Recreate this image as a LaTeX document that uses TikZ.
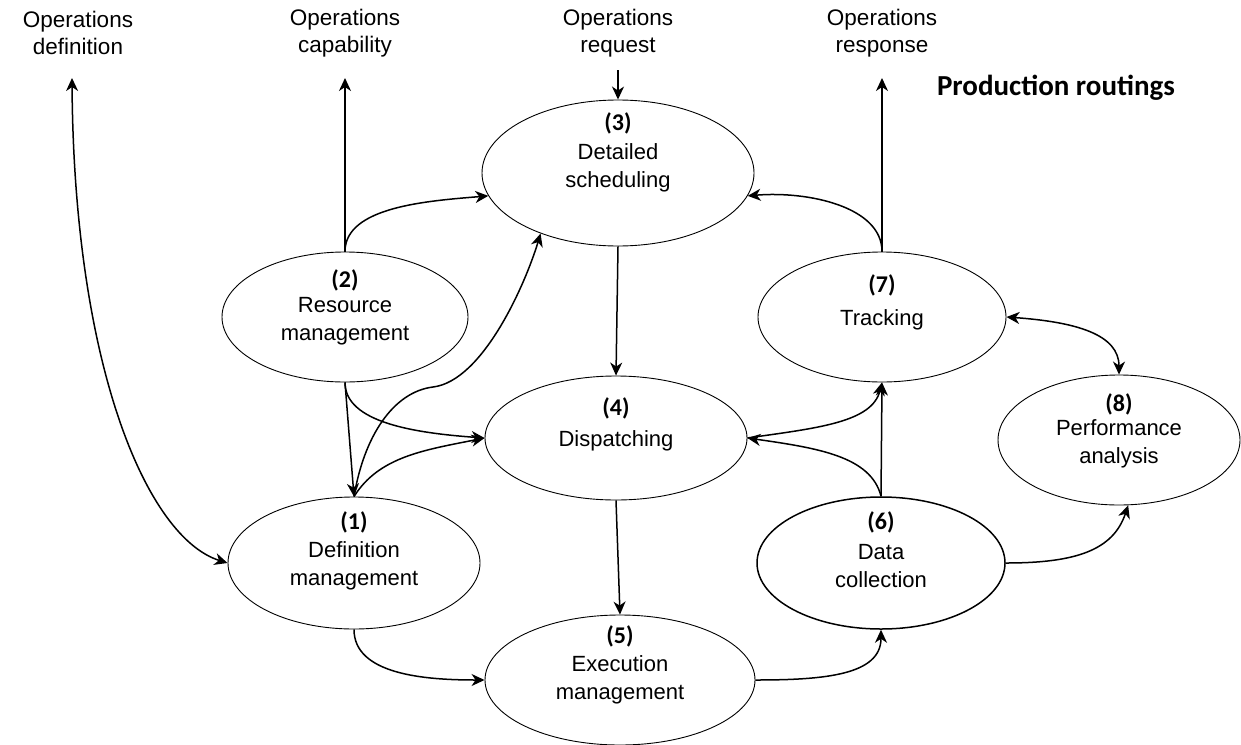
\documentclass[tikz,border=0pt]{standalone}
\usepackage{fontspec}
\setmainfont{Liberation Sans}
\newfontfamily\numfont{Carlito}
\usetikzlibrary{arrows.meta,shapes.geometric}

\tikzset{
  proc/.style={draw, ellipse, line width=0.9pt, inner sep=0pt},
  procname/.style={font=\fontsize{22}{28}\selectfont, align=center, inner sep=0pt},
  procnum/.style={font=\numfont\bfseries\fontsize{24}{28}\selectfont, inner sep=0pt},
  extlabel/.style={font=\fontsize{22.5}{27}\selectfont, align=center, inner sep=0pt},
  flow/.style={line width=1.5pt, -{Stealth[length=13pt,width=12pt,inset=4pt]}},
  twoway/.style={line width=1.5pt, {Stealth[length=13pt,width=12pt,inset=4pt]}-{Stealth[length=13pt,width=12pt,inset=4pt]}},
}

\begin{document}
\begin{tikzpicture}[x=1pt,y=-1pt]
\useasboundingbox (0,0) rectangle (1241,744);

% activities
\node[proc, minimum width=252pt, minimum height=132pt] (n1) at (354,563) {};
\node[proc, minimum width=246pt, minimum height=130pt] (n2) at (345,317) {};
\node[proc, minimum width=272pt, minimum height=146pt] (n3) at (618,173) {};
\node[proc, minimum width=262pt, minimum height=124pt] (n4) at (616,438) {};
\node[proc, minimum width=270pt, minimum height=130pt] (n5) at (620,680) {};
\node[proc, line width=1.5pt, minimum width=248pt, minimum height=132pt] (n6) at (881,563) {};
\node[proc, minimum width=248pt, minimum height=130pt] (n7) at (882,317) {};
\node[proc, minimum width=242pt, minimum height=130pt] (n8) at (1119,440) {};

% activity texts
\node[procnum] (k1) at (354,522) {(1)};
\node[procname] (t1) at (354,566) {Definition\\management};
\node[procnum] (k2) at (345,280) {(2)};
\node[procname] (t2) at (345,321) {Resource\\management};
\node[procnum] (k3) at (618,123) {(3)};
\node[procname] (t3) at (618,168) {Detailed\\scheduling};
\node[procnum] (k4) at (616,408) {(4)};
\node[procname] (t4) at (616,441) {Dispatching};
\node[procnum] (k5) at (620,636) {(5)};
\node[procname] (t5) at (620,680) {Execution\\management};
\node[procnum] (k6) at (881,522) {(6)};
\node[procname] (t6) at (881,566) {Data\\collection};
\node[procnum] (k7) at (882,285) {(7)};
\node[procname] (t7) at (882,320) {Tracking};
\node[procnum] (k8) at (1119,404) {(8)};
\node[procname] (t8) at (1119,444) {Performance\\analysis};

% external flows
\node[extlabel] (x1) at (78,33) {Operations\\definition};
\node[extlabel] (x2) at (345,33) {Operations\\capability};
\node[extlabel] (x3) at (618,33) {Operations\\request};
\node[extlabel] (x4) at (882,33) {Operations\\response};
\node[font=\numfont\bfseries\fontsize{29}{32}\selectfont, inner sep=0pt] (pr) at (1056,88) {Production routings};

\coordinate (c1) at (72,78);
\coordinate (c2) at (345,78);
\coordinate (c3) at (618,70);
\coordinate (c4) at (882,78);

% connectors
\draw[twoway] (c1) .. controls +(2,290) and +(-80,-25) .. (n1.west);
\draw[flow] (n2.north) -- (c2);
\draw[flow] (n2.north) .. controls +(0,-45) and +(-60,5) .. (n3.190);
\draw[flow] (n2.south) -- (n1.north);
\draw[flow] (n2.south) .. controls +(0,40) and +(-70,-5) .. (n4.west);
\draw[flow] (n1.north) .. controls +(25,-40) and +(-60,12) .. (n4.west);
\draw[flow] (n1.north) .. controls +(10,-60) and +(-40,5) .. (433,387)
                       .. controls +(50,-6) and +(-15,50) .. (n3.218);
\draw[flow] (c3) -- (n3.north);
\draw[flow] (n3.south) -- (n4.north);
\draw[flow] (n4.south) -- (n5.north);
\draw[flow] (n1.south) .. controls +(0,45) and +(-60,0) .. (n5.west);
\draw[flow] (n5.east) .. controls +(70,0) and +(0,45) .. (n6.south);
\draw[flow] (n6.north) -- (n7.south);
\draw[flow] (n6.north) .. controls +(-10,-40) and +(70,10) .. (n4.east);
\draw[flow] (n4.east) .. controls +(70,-10) and +(-10,40) .. (n7.south);
\draw[flow] (n7.north) -- (c4);
\draw[flow] (n7.north) .. controls +(0,-45) and +(60,-5) .. (n3.-10);
\draw[twoway] (n7.east) .. controls +(70,5) and +(0,-40) .. (n8.north);
\draw[flow] (n6.east) .. controls +(70,0) and +(-15,45) .. (n8.-82);
\end{tikzpicture}
\end{document}
